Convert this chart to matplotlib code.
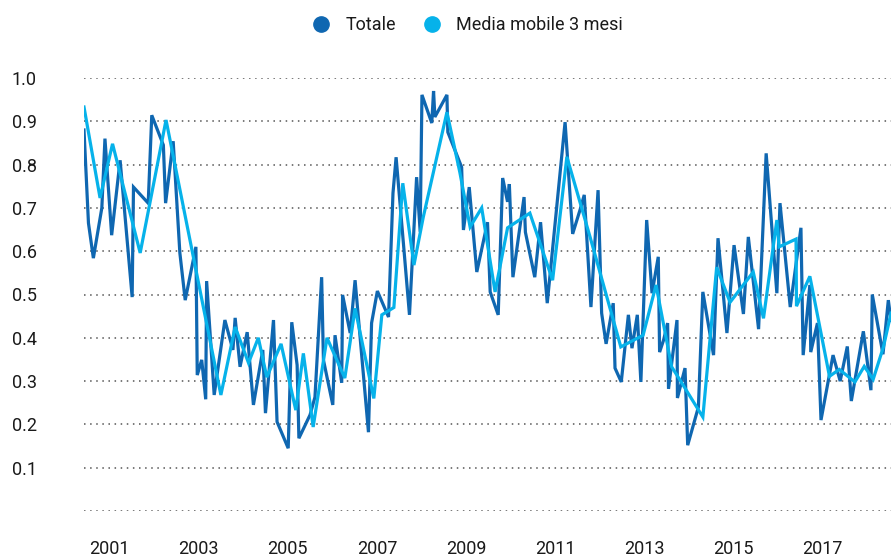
import numpy as np
import matplotlib.pyplot as plt
from matplotlib.lines import Line2D

plt.rcParams['font.family'] = ['Roboto', 'DejaVu Sans']

# Totale (decimal year, value)
tot_x = [2000.43, 2000.53, 2000.64, 2000.83, 2000.90, 2001.05, 2001.24, 2001.51, 2001.54, 2001.87,
         2001.95, 2002.21, 2002.26, 2002.43, 2002.58, 2002.70, 2002.94, 2002.97, 2003.07, 2003.16,
         2003.18, 2003.35, 2003.59, 2003.77, 2003.82, 2003.93, 2004.09, 2004.23, 2004.44, 2004.50,
         2004.68, 2004.76, 2005.01, 2005.09, 2005.21, 2005.25, 2005.50, 2005.61, 2005.76, 2005.80,
         2006.01, 2006.06, 2006.21, 2006.23, 2006.40, 2006.51, 2006.81, 2006.88, 2007.01, 2007.26,
         2007.36, 2007.43, 2007.73, 2007.89, 2007.97, 2008.01, 2008.23, 2008.27, 2008.30, 2008.57,
         2008.59, 2008.90, 2008.94, 2009.07, 2009.24, 2009.48, 2009.54, 2009.72, 2009.82, 2009.93,
         2009.97, 2010.05, 2010.30, 2010.33, 2010.54, 2010.67, 2010.82, 2011.22, 2011.39, 2011.56,
         2011.65, 2011.80, 2011.96, 2012.04, 2012.14, 2012.30, 2012.34, 2012.48, 2012.64, 2012.72,
         2012.84, 2012.92, 2013.05, 2013.17, 2013.31, 2013.34, 2013.43, 2013.52, 2013.54, 2013.73,
         2013.74, 2013.91, 2013.97, 2014.21, 2014.31, 2014.55, 2014.65, 2014.85, 2015.01, 2015.22,
         2015.33, 2015.56, 2015.73, 2015.97, 2016.04, 2016.27, 2016.51, 2016.56, 2016.71, 2016.73,
         2016.88, 2016.96, 2017.23, 2017.39, 2017.55, 2017.64, 2017.91, 2018.08, 2018.11, 2018.35,
         2018.47, 2018.53]
tot_y = [0.88, 0.665, 0.584, 0.70, 0.86, 0.637, 0.81, 0.494, 0.748, 0.711,
         0.914, 0.845, 0.711, 0.854, 0.596, 0.487, 0.61, 0.314, 0.349, 0.258,
         0.531, 0.268, 0.441, 0.372, 0.446, 0.333, 0.413, 0.245, 0.372, 0.226,
         0.441, 0.206, 0.145, 0.436, 0.337, 0.168, 0.222, 0.263, 0.54, 0.349,
         0.245, 0.406, 0.296, 0.499, 0.411, 0.533, 0.182, 0.434, 0.508, 0.448,
         0.734, 0.817, 0.453, 0.771, 0.645, 0.961, 0.896, 0.97, 0.91, 0.961,
         0.875, 0.794, 0.649, 0.748, 0.552, 0.667, 0.506, 0.453, 0.769, 0.714,
         0.755, 0.54, 0.725, 0.644, 0.54, 0.667, 0.48, 0.898, 0.64, 0.697,
         0.73, 0.471, 0.741, 0.457, 0.386, 0.48, 0.33, 0.298, 0.453, 0.376,
         0.453, 0.298, 0.672, 0.503, 0.587, 0.367, 0.395, 0.434, 0.282, 0.441,
         0.261, 0.33, 0.152, 0.24, 0.506, 0.36, 0.63, 0.411, 0.614, 0.455,
         0.633, 0.42, 0.826, 0.503, 0.711, 0.471, 0.654, 0.36, 0.522, 0.367,
         0.434, 0.21, 0.36, 0.30, 0.38, 0.254, 0.415, 0.279, 0.50, 0.362,
         0.487, 0.44]

# Media mobile 3 mesi
mm_x = [2000.43, 2000.79, 2001.07, 2001.69, 2002.27, 2002.57, 2003.50, 2003.82, 2004.12, 2004.34,
        2004.53, 2004.85, 2005.18, 2005.35, 2005.57, 2005.88, 2006.28, 2006.51, 2006.93, 2007.11,
        2007.38, 2007.58, 2007.83, 2008.04, 2008.57, 2008.86, 2009.09, 2009.35, 2009.65, 2009.93,
        2010.43, 2010.94, 2011.26, 2011.78, 2012.47, 2012.97, 2013.26, 2013.61, 2013.80, 2014.31,
        2014.62, 2014.92, 2015.44, 2015.67, 2015.97, 2016.02, 2016.40, 2016.41, 2016.71, 2017.15,
        2017.37, 2017.72, 2017.93, 2018.13, 2018.36, 2018.53]
mm_y = [0.933, 0.723, 0.848, 0.596, 0.903, 0.748, 0.268, 0.425, 0.342, 0.40,
        0.309, 0.386, 0.233, 0.364, 0.194, 0.40, 0.307, 0.468, 0.26, 0.453,
        0.47, 0.757, 0.568, 0.679, 0.921, 0.782, 0.656, 0.70, 0.506, 0.654,
        0.688, 0.533, 0.818, 0.633, 0.379, 0.406, 0.522, 0.333, 0.302, 0.217,
        0.563, 0.482, 0.552, 0.445, 0.672, 0.61, 0.628, 0.473, 0.542, 0.311,
        0.327, 0.298, 0.334, 0.304, 0.379, 0.457]

years = [2001, 2003, 2005, 2007, 2009, 2011, 2013, 2015, 2017]
yticks = [0.0, 0.1, 0.2, 0.3, 0.4, 0.5, 0.6, 0.7, 0.8, 0.9, 1.0]
ylabels = ['', '0.1', '0.2', '0.3', '0.4', '0.5', '0.6', '0.7', '0.8', '0.9', '1.0']

dark = '#0f67b1'
light = '#06b2ea'

fig = plt.figure(figsize=(8.91, 5.57), dpi=100)
ax = fig.add_axes([84/891, 46/557, 1 - 84/891, 433/557])

ax.plot(tot_x, tot_y, color=dark, lw=2.3, solid_joinstyle='miter', zorder=3)
ax.plot(mm_x, mm_y, color=light, lw=2.3, solid_joinstyle='miter', zorder=4)

ax.set_xlim(2000.43, 2018.53)
ax.set_ylim(0, 1.0)
ax.set_yticks(yticks)
ax.set_yticklabels(ylabels)
ax.set_xticks(years)
ax.set_xticklabels([str(y) for y in years])
ax.tick_params(axis='y', length=0, pad=34, labelsize=13, labelcolor='#1a1a1a')
ax.tick_params(axis='x', length=0, pad=21, labelsize=13, labelcolor='#1a1a1a')
ax.grid(axis='y', color='#555555', linestyle=(0, (1, 3)), linewidth=1.1)
ax.grid(axis='x', visible=False)
for s in ax.spines.values():
    s.set_visible(False)

handles = [Line2D([], [], marker='o', ls='none', color=dark, markersize=11),
           Line2D([], [], marker='o', ls='none', color=light, markersize=11)]
fig.legend(handles, ['Totale', 'Media mobile 3 mesi'], loc='center', ncol=2,
           bbox_to_anchor=(463/891, 1 - 25/557), frameon=False, fontsize=13,
           handletextpad=0.35, columnspacing=1.0, labelcolor='#1a1a1a')

fig.savefig('out.png', dpi=100)
